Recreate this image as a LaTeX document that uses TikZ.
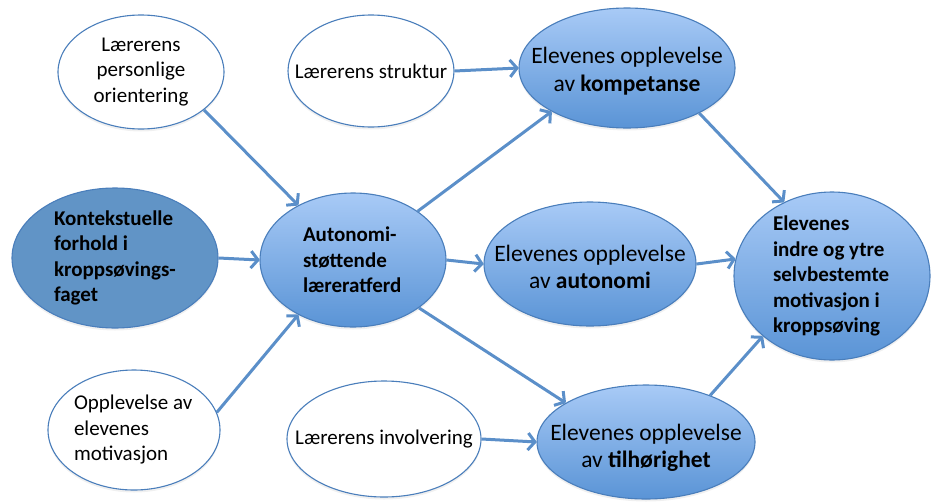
\documentclass[tikz,border=0pt]{standalone}
\usepackage{fontspec}
\setmainfont{Carlito}
\usetikzlibrary{shapes.geometric,arrows.meta,shadows}

\definecolor{rim}{HTML}{4A7EBB}
\definecolor{pale}{HTML}{A8CAF6}
\definecolor{deep}{HTML}{5A94D6}
\definecolor{ctx}{HTML}{6194C6}
\definecolor{link}{HTML}{5B8FC9}

\tikzset{%
    bubble/.style 2 args={ellipse, draw=rim, line width=1.1pt,
        minimum width=#1, minimum height=#2, inner sep=0pt,
        drop shadow={opacity=0.12, shadow xshift=0pt, shadow yshift=-2.5pt}},
    plain/.style={fill=white},
    lit/.style={top color=pale, bottom color=deep},
    dark/.style={fill=ctx},
    say/.style={align=center, inner sep=0pt, font=\fontsize{21}{25.5}\selectfont},
    sayl/.style={text width=#1, align=flush left, inner sep=0pt, font=\fontsize{21}{25.5}\selectfont},
    saybig/.style={align=center, inner sep=0pt, font=\fontsize{23.5}{27.5}\selectfont},
    flow/.style={draw=link, line width=3pt, line join=round,
        -{Straight Barb[length=7pt, width=17pt, line join=round]}}
}

\begin{document}
\begin{tikzpicture}[x=1pt, y=-1pt]
\useasboundingbox (0,0) rectangle (934,501);

% left column
\node[bubble={166}{114}, plain, label={[say]center:{Lærerens\\personlige\\orientering}}] (pers) at (141,72) {};
\node[bubble={206}{140}, dark, label={[sayl=122]center:{\bfseries Kontekstuelle\\forhold i\\kroppsøvings-\\faget}}] (ctx) at (115,258) {};
\node[bubble={172}{120}, plain, label={[sayl=120]center:{Opplevelse~av\\elevenes\\motivasjon}}] (motiv) at (134,430) {};

% middle column
\node[bubble={186}{134}, lit, label={[sayl=100]center:{\bfseries Autonomi-\\støttende\\læreratferd}}] (auto) at (353,260) {};
\node[bubble={166}{112}, plain, label={[say]center:{Lærerens struktur}}] (struk) at (371,71) {};
\node[bubble={194}{116}, plain, label={[say]center:{Lærerens involvering}}] (invol) at (384,439) {};

% needs
\node[bubble={216}{120}, lit, label={[saybig,yshift=-3pt]center:{Elevenes opplevelse\\av \textbf{kompetanse}}}] (komp) at (627,68) {};
\node[bubble={212}{124}, lit, label={[saybig,yshift=-3pt]center:{Elevenes opplevelse\\av \textbf{autonomi}}}] (auton) at (590,264) {};
\node[bubble={218}{114}, lit, label={[saybig,yshift=-6pt]center:{Elevenes opplevelse\\av \textbf{tilhørighet}}}] (tilh) at (646,442) {};

% outcome
\node[bubble={196}{168}, lit, label={[sayl=118]center:{\bfseries Elevenes\\indre og ytre\\selvbestemte\\motivasjon i\\kroppsøving}}] (indre) at (832,276) {};

\draw[flow] (pers.-31) -- (auto.135);
\draw[flow] (ctx.east) -- (auto.west);
\draw[flow] (motiv.12) -- (auto.225);
\draw[flow] (struk.east) -- (komp.west);
\draw[flow] (auto.37) -- (komp.210);
\draw[flow] (auto.east) -- (auton.west);
\draw[flow] (auto.-36) -- (tilh.154);
\draw[flow] (invol.east) -- (tilh.west);
\draw[flow] (komp.-32) -- (indre.123);
\draw[flow] (auton.east) -- (indre.170);
\draw[flow] (tilh.36) -- (indre.221);

\end{tikzpicture}
\end{document}
